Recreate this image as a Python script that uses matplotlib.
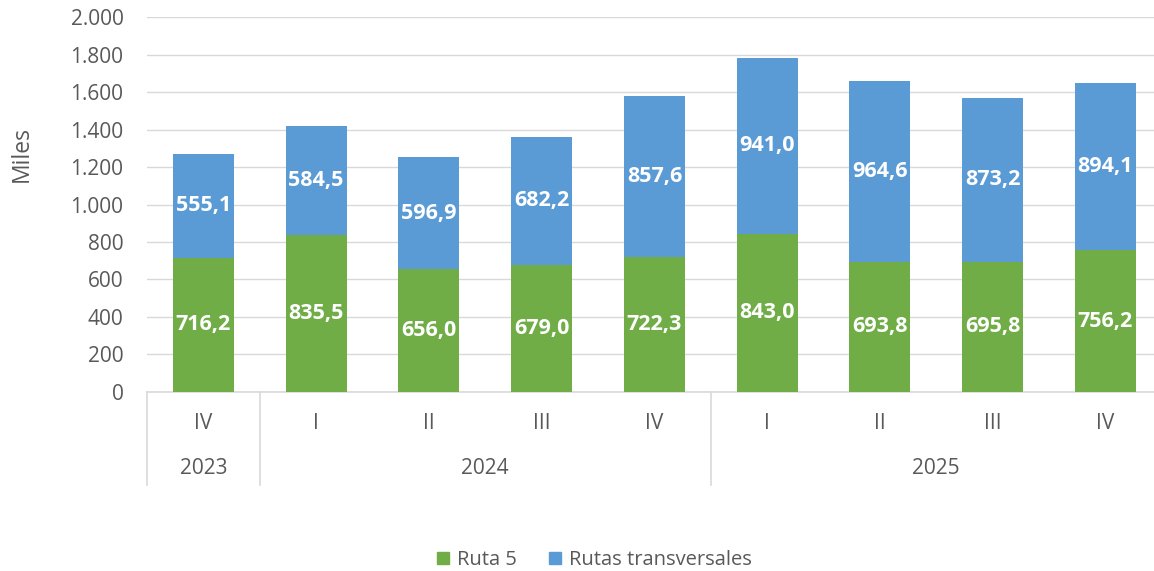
import numpy as np
import matplotlib.pyplot as plt
import matplotlib.transforms as mtransforms
from matplotlib.patches import Patch

quarters = ["IV", "I", "II", "III", "IV", "I", "II", "III", "IV"]
years = ["2023", "2024", "2025"]
year_spans = [(0, 1), (1, 5), (5, 9)]
ruta5 = [716.2, 835.5, 656.0, 679.0, 722.3, 843.0, 693.8, 695.8, 756.2]
transversales = [555.1, 584.5, 596.9, 682.2, 857.6, 941.0, 964.6, 873.2, 894.1]

green = '#70AD47'
blue = '#5B9BD5'
grey_txt = '#595959'
grid_c = '#D9D9D9'
plt.rcParams['font.family'] = ['Open Sans', 'DejaVu Sans']

fig = plt.figure(figsize=(11.54, 5.71), dpi=100)
ax = fig.add_axes([0.1274, 0.3135, 0.8793, 0.6567])

x = np.arange(len(quarters))
w = 0.54
ax.bar(x, ruta5, width=w, color=green, zorder=3)
ax.bar(x, transversales, width=w, bottom=ruta5, color=blue, zorder=3)

def fmt(v):
    return f"{v:.1f}".replace(".", ",")

for i in range(len(x)):
    ax.text(x[i], ruta5[i] / 2, fmt(ruta5[i]), ha='center', va='center',
            color='white', fontsize=15.5, fontweight='bold', zorder=4)
    ax.text(x[i], ruta5[i] + transversales[i] / 2, fmt(transversales[i]),
            ha='center', va='center', color='white', fontsize=15.5,
            fontweight='bold', zorder=4)

ax.set_xlim(-0.5, len(x) - 0.5)
ax.set_ylim(0, 2000)
yt = np.arange(0, 2001, 200)
ax.set_yticks(yt)
ax.set_yticklabels([f"{v:,.0f}".replace(",", ".") for v in yt],
                   fontsize=15, color=grey_txt)
ax.tick_params(axis='y', length=0, pad=17)
ax.yaxis.grid(True, color=grid_c, linewidth=1, zorder=0)
ax.set_ylabel("Miles", fontsize=16.5, color=grey_txt)
ax.yaxis.set_label_coords(-0.112, 0.635)

ax.set_xticks(x)
ax.set_xticklabels([])
ax.tick_params(axis='x', length=0)
for s in ['top', 'right', 'left']:
    ax.spines[s].set_visible(False)
ax.spines['bottom'].set_color(grid_c)
ax.spines['bottom'].set_linewidth(1.2)

trans = mtransforms.blended_transform_factory(ax.transData, ax.transAxes)
for i, q in enumerate(quarters):
    ax.text(x[i], -0.083, q, transform=trans, ha='center', va='center',
            fontsize=15, color=grey_txt)
for yr, (a, b) in zip(years, year_spans):
    ax.text((a + b - 1) / 2, -0.203, yr, transform=trans, ha='center',
            va='center', fontsize=15, color=grey_txt)
for a, b in year_spans:
    ax.plot([a - 0.5, a - 0.5], [0, -0.248], transform=trans, color=grid_c,
            linewidth=1.2, clip_on=False)

handles = [Patch(color=green, label='Ruta 5'),
           Patch(color=blue, label='Rutas transversales')]
fig.legend(handles=handles, loc='center', bbox_to_anchor=(0.515, 0.019),
           ncol=2, frameon=False, fontsize=14.5, handlelength=0.6,
           handleheight=0.6, handletextpad=0.4, columnspacing=1.6,
           labelcolor=grey_txt)

fig.savefig('out.png', dpi=100)
